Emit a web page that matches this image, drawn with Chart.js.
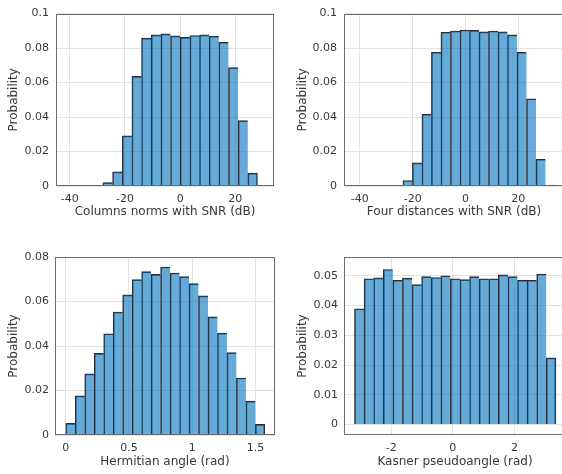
<!DOCTYPE html>
<html>
<head>
<meta charset="utf-8">
<script src="https://cdn.jsdelivr.net/npm/chart.js@4.4.1/dist/chart.umd.min.js"></script>
<style>
	html, body { margin: 0; padding: 0; background: #fff; overflow: hidden; width: 562px; height: 474px; position: relative; }
	canvas { position: absolute; }
</style>
</head>
<body>
<canvas id="hist-cols" width="290" height="230" style="left:0;top:0"></canvas>
<canvas id="hist-four" width="290" height="230" style="left:288px;top:0"></canvas>
<canvas id="hist-herm" width="290" height="234" style="left:0;top:240px"></canvas>
<canvas id="hist-kasner" width="290" height="234" style="left:288px;top:240px"></canvas>
<script>
/* ---------- Data ---------- */

// Columns norms with SNR (dB)
var colsEdges = [-28, -24.5, -21, -17.5, -14, -10.5, -7, -3.5, 0, 3.5, 7, 10.5, 14, 17.5, 21, 24.5, 28];
var colsProb = [0.0020, 0.0082, 0.0291, 0.0636, 0.0858, 0.0877, 0.0882, 0.0871, 0.0862, 0.0873, 0.0877, 0.0869, 0.0834, 0.0687, 0.0379, 0.0075];

// Four distances with SNR (dB)
var fourEdges = [-27.3, -23.7, -20.1, -16.5, -12.9, -9.3, -5.7, -2.1, 1.5, 5.1, 8.7, 12.3, 15.9, 19.5, 23.1, 26.7, 30.3, 33.9];
var fourProb = [0.0004, 0.0032, 0.0134, 0.0416, 0.0776, 0.0892, 0.0899, 0.0905, 0.0903, 0.0894, 0.0899, 0.0894, 0.0877, 0.0776, 0.0506, 0.0155, 0.0006];

// Hermitian angle (rad)
var hermEdges = [0, 0.075, 0.15, 0.225, 0.3, 0.375, 0.45, 0.525, 0.6, 0.675, 0.75, 0.825, 0.9, 0.975, 1.05, 1.125, 1.2, 1.275, 1.35, 1.425, 1.5, 1.575];
var hermProb = [0.0052, 0.0176, 0.0275, 0.0367, 0.0455, 0.0553, 0.0630, 0.0698, 0.0734, 0.0722, 0.0755, 0.0728, 0.0712, 0.0680, 0.0625, 0.0531, 0.0458, 0.0370, 0.0256, 0.0152, 0.0048];

// Kasner pseudoangle (rad)
var kasEdges = [-3.19, -2.879, -2.568, -2.257, -1.946, -1.635, -1.324, -1.013, -0.702, -0.391, -0.08, 0.231, 0.542, 0.853, 1.164, 1.475, 1.786, 2.097, 2.408, 2.719, 3.03, 3.341];
var kasProb = [0.0389, 0.0490, 0.0493, 0.0521, 0.0485, 0.0492, 0.0470, 0.0497, 0.0494, 0.0500, 0.0490, 0.0487, 0.0497, 0.0490, 0.0490, 0.0503, 0.0497, 0.0485, 0.0485, 0.0506, 0.0224];

// Tick values and labels
var snrTicks = [-40, -20, 0, 20];
var snrTickLabels = ['-40', '-20', '0', '20'];
var probTicksTop = [0, 0.02, 0.04, 0.06, 0.08, 0.1];
var probTickLabelsTop = ['0', '0.02', '0.04', '0.06', '0.08', '0.1'];
var hermTicks = [0, 0.5, 1, 1.5];
var hermTickLabels = ['0', '0.5', '1', '1.5'];
var hermProbTicks = [0, 0.02, 0.04, 0.06, 0.08];
var hermProbTickLabels = ['0', '0.02', '0.04', '0.06', '0.08'];
var kasTicks = [-2, 0, 2];
var kasTickLabels = ['-2', '0', '2'];
var kasProbTicks = [0, 0.01, 0.02, 0.03, 0.04, 0.05];
var kasProbTickLabels = ['0', '0.01', '0.02', '0.03', '0.04', '0.05'];

(function () {
	'use strict';

	/* ---------- Styles ---------- */

	var FONT = 'DejaVu Sans';
	var TEXT = '#383838';
	var GRID = '#e2e2e2';
	var BOX = '#6e6e6e';
	var FACE = 'rgba(0, 114, 189, 0.6)';
	var EDGE = 'rgba(20, 20, 30, 0.9)';

	// Full axes box, drawn on top like MATLAB does
	var boxPlugin = {
		id: 'axesBox',
		afterDatasetsDraw: function (chart) {
			var a = chart.chartArea;
			var ctx = chart.ctx;
			ctx.save();
			ctx.strokeStyle = BOX;
			ctx.lineWidth = 1;
			ctx.strokeRect(Math.round(a.left) + 0.5, Math.round(a.top) + 0.5,
				Math.round(a.right - a.left) - 1, Math.round(a.bottom - a.top) - 1);
			ctx.restore();
		},
	};

	function fixedTicks(values) {
		return function (scale) {
			scale.ticks = values.map(function (v) { return { value: v }; });
		};
	}

	function labelFor(values, labels) {
		return function (value) {
			var i = values.indexOf(value);
			return i >= 0 ? labels[i] : '';
		};
	}

	/* ---------- Histogram builder ---------- */

	function buildHist(id, c) {
		var canvas = document.getElementById(id);
		var W = canvas.width;
		var H = canvas.height;
		var points = c.values.map(function (v, i) {
			return { x: (c.edges[i] + c.edges[i + 1]) / 2, y: v };
		});
		var last = points.length - 1;

		new Chart(canvas, {
			type: 'bar',
			data: {
				datasets: [{
					data: points,
					backgroundColor: FACE,
					borderColor: EDGE,
					borderWidth: function (ctx) {
						return { top: 1, left: 1, bottom: 0, right: ctx.dataIndex === last ? 1 : 0 };
					},
					borderSkipped: false,
					barPercentage: 1,
					categoryPercentage: 1,
				}],
			},
			options: {
				responsive: false,
				animation: false,
				events: [],
				layout: {
					padding: {
						left: 0,
						top: c.area.top,
						right: W - c.area.right,
						bottom: H - c.area.bottom - c.xHeight,
					},
				},
				plugins: { legend: { display: false }, tooltip: { enabled: false } },
				scales: {
					x: {
						type: 'linear',
						offset: false,
						min: c.xMin,
						max: c.xMax,
						afterBuildTicks: fixedTicks(c.xTicks),
						afterFit: function (s) { s.height = c.xHeight; },
						grid: { color: GRID, drawTicks: false, offset: false },
						border: { display: false },
						ticks: {
							autoSkip: false,
							maxRotation: 0,
							padding: 7,
							color: TEXT,
							font: { family: FONT, size: 11 },
							callback: labelFor(c.xTicks, c.xTickLabels),
						},
						title: {
							display: true,
							text: c.xTitle,
							color: TEXT,
							font: { family: FONT, size: 12 },
							padding: { top: 0, bottom: 0 },
						},
					},
					y: {
						min: c.yMin,
						max: c.yMax,
						afterBuildTicks: fixedTicks(c.yTicks),
						afterFit: function (s) { s.width = c.area.left; },
						grid: { color: GRID, drawTicks: false },
						border: { display: false },
						ticks: {
							autoSkip: false,
							padding: c.yTickPad,
							color: TEXT,
							font: { family: FONT, size: 11 },
							callback: labelFor(c.yTicks, c.yTickLabels),
						},
						title: {
							display: true,
							text: 'Probability',
							color: TEXT,
							font: { family: FONT, size: 12 },
							padding: { top: c.yTitlePad, bottom: 0 },
						},
					},
				},
			},
			plugins: [boxPlugin],
		});
	}

	/* ---------- Boot ---------- */

	buildHist('hist-cols', {
		edges: colsEdges, values: colsProb,
		xMin: -45, xMax: 34, xTicks: snrTicks, xTickLabels: snrTickLabels,
		yMin: 0, yMax: 0.1, yTicks: probTicksTop, yTickLabels: probTickLabelsTop,
		xTitle: 'Columns norms with SNR (dB)',
		area: { left: 56, right: 274, top: 7, bottom: 186 },
		xHeight: 33, yTickPad: 7, yTitlePad: 7,
	});

	buildHist('hist-four', {
		edges: fourEdges, values: fourProb,
		xMin: -46, xMax: 37.3, xTicks: snrTicks, xTickLabels: snrTickLabels,
		yMin: 0, yMax: 0.1, yTicks: probTicksTop, yTickLabels: probTickLabelsTop,
		xTitle: 'Four distances with SNR (dB)',
		area: { left: 56, right: 276, top: 7, bottom: 186 },
		xHeight: 33, yTickPad: 7, yTitlePad: 8,
	});

	buildHist('hist-herm', {
		edges: hermEdges, values: hermProb,
		xMin: -0.085, xMax: 1.655, xTicks: hermTicks, xTickLabels: hermTickLabels,
		yMin: 0, yMax: 0.08, yTicks: hermProbTicks, yTickLabels: hermProbTickLabels,
		xTitle: 'Hermitian angle (rad)',
		area: { left: 55, right: 275, top: 17, bottom: 195 },
		xHeight: 34, yTickPad: 6, yTitlePad: 7,
	});

	buildHist('hist-kasner', {
		edges: kasEdges, values: kasProb,
		xMin: -3.53, xMax: 3.67, xTicks: kasTicks, xTickLabels: kasTickLabels,
		yMin: -0.0035, yMax: 0.0563, yTicks: kasProbTicks, yTickLabels: kasProbTickLabels,
		xTitle: 'Kasner pseudoangle (rad)',
		area: { left: 56, right: 278, top: 17, bottom: 195 },
		xHeight: 34, yTickPad: 6, yTitlePad: 8,
	});
})();
</script>
</body>
</html>
